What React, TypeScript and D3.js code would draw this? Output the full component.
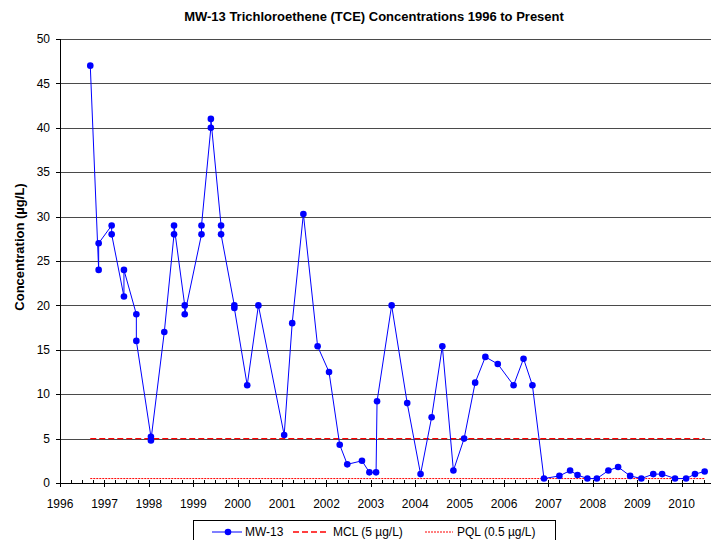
import React from "react";
import * as d3 from "d3";

const sampleDates: string[] = [
  "1996-09-06", "1996-11-14", "1996-11-14", "1997-03-01", "1997-03-01",
  "1997-06-10", "1997-06-10", "1997-09-20", "1997-09-20", "1998-01-18",
  "1998-01-18", "1998-05-08", "1998-07-27", "1998-07-27", "1998-10-23",
  "1998-10-23", "1999-03-10", "1999-03-10", "1999-05-26", "1999-05-26",
  "1999-08-18", "1999-08-18", "1999-12-05", "1999-12-05", "2000-03-20",
  "2000-06-20", "2001-01-18", "2001-03-25", "2001-06-25", "2001-10-20",
  "2002-01-22", "2002-04-20", "2002-06-21", "2002-10-20", "2002-12-20",
  "2003-02-13", "2003-02-21", "2003-06-21", "2003-10-27", "2004-02-14",
  "2004-05-15", "2004-08-11", "2004-11-10", "2005-02-06", "2005-05-08",
  "2005-07-31", "2005-11-10", "2006-03-20", "2006-06-10", "2006-08-22",
  "2006-11-25", "2007-04-01", "2007-06-28", "2007-08-28", "2007-11-17",
  "2008-02-03", "2008-05-08", "2008-07-27", "2008-11-03", "2009-02-03",
  "2009-05-12", "2009-07-24", "2009-11-07", "2010-02-06", "2010-04-20",
  "2010-07-09",
];

const mw13Values: number[] = [
  47, 24, 27, 29, 28,
  21, 24, 19, 16, 5.2,
  4.8, 17, 28, 29, 20,
  19, 28, 29, 40, 41,
  29, 28, 20, 19.7, 11,
  20, 5.4, 18, 30.3, 15.4,
  12.5, 4.3, 2.1, 2.5, 1.2,
  1.2, 9.2, 20, 9, 1.0,
  7.4, 15.4, 1.4, 5.0, 11.3,
  14.2, 13.4, 11, 14, 11,
  0.5, 0.8, 1.4, 0.9, 0.5,
  0.5, 1.4, 1.8, 0.8, 0.5,
  1.0, 1.0, 0.5, 0.5, 1.0,
  1.3,
];

const mclValue = 5;
const pqlValue = 0.5;
const yTicks: number[] = [0, 5, 10, 15, 20, 25, 30, 35, 40, 45, 50];
const xDomain: string[] = ["1996-01-01", "2010-08-30"];

const title = "MW-13 Trichloroethene (TCE) Concentrations 1996 to Present";
const yTitle = "Concentration (µg/L)";
const legendLabels: string[] = ["MW-13", "MCL (5 µg/L)", "PQL (0.5 µg/L)"];

const parse = d3.timeParse("%Y-%m-%d");

export default function App() {
  const W = 713;
  const H = 540;
  const left = 60;
  const right = 711;
  const top = 39;
  const bottom = 483;
  const font = "Arial, 'Liberation Sans', sans-serif";

  const x = d3
    .scaleTime()
    .domain([parse(xDomain[0])!, parse(xDomain[1])!])
    .range([left, right]);
  const y = d3.scaleLinear().domain([0, 50]).range([bottom, top]);

  const data = sampleDates.map((d, i) => ({ date: parse(d)!, value: mw13Values[i] }));
  const line = d3
    .line<{ date: Date; value: number }>()
    .x((d) => x(d.date))
    .y((d) => y(d.value));

  const firstDate = data[0].date;
  const lastDate = data[data.length - 1].date;

  const years = d3.timeYear.range(parse(xDomain[0])!, parse("2011-01-01")!).filter((d) => x(d) <= right);
  const quarters = d3.timeMonth
    .every(3)!
    .range(parse(xDomain[0])!, parse(xDomain[1])!)
    .filter((d) => d.getMonth() !== 0);

  const px = (v: number) => Math.round(v) + 0.5;

  const legY = 532;

  return (
    <svg
      width={W}
      height={H}
      style={{ position: "absolute", left: 0, top: 0, background: "#fff" }}
      fontFamily={font}
    >
      <rect x={0} y={0} width={W} height={H} fill="#fff" />
      <text x={374} y={21} textAnchor="middle" fontSize={13} fontWeight="bold">
        {title}
      </text>
      <text
        transform={`translate(24,${(top + bottom) / 2 - 14}) rotate(-90)`}
        textAnchor="middle"
        fontSize={13}
        fontWeight="bold"
      >
        {yTitle}
      </text>

      {/* gridlines */}
      {yTicks
        .filter((t) => t > 0)
        .map((t) => (
          <line key={"g" + t} x1={left} x2={right} y1={px(y(t))} y2={px(y(t))} stroke="#4a4a4a" strokeWidth={1} />
        ))}

      {/* y axis */}
      <line x1={px(left)} x2={px(left)} y1={top} y2={bottom + 1} stroke="#000" />
      {yTicks.map((t) => (
        <g key={"yt" + t}>
          <line x1={left - 4} x2={left} y1={px(y(t))} y2={px(y(t))} stroke="#000" />
          <text x={50} y={y(t)} dy="0.35em" textAnchor="end" fontSize={12}>
            {t}
          </text>
        </g>
      ))}

      {/* x axis */}
      <line x1={left} x2={right} y1={px(bottom)} y2={px(bottom)} stroke="#000" />
      {quarters.map((d, i) => (
        <line key={"q" + i} x1={px(x(d))} x2={px(x(d))} y1={bottom - 3} y2={bottom} stroke="#000" />
      ))}
      {years.map((d, i) => (
        <g key={"y" + i}>
          <line x1={px(x(d))} x2={px(x(d))} y1={bottom - 3} y2={bottom + 4} stroke="#000" />
          <text x={x(d)} y={508} textAnchor="middle" fontSize={12}>
            {d.getFullYear()}
          </text>
        </g>
      ))}

      {/* reference lines */}
      <line
        x1={x(firstDate)}
        x2={x(lastDate)}
        y1={y(mclValue)}
        y2={y(mclValue)}
        stroke="#ff0000"
        strokeWidth={1.3}
        strokeDasharray="6,3"
      />
      <line
        x1={x(firstDate)}
        x2={x(lastDate)}
        y1={y(pqlValue)}
        y2={y(pqlValue)}
        stroke="#ff0000"
        strokeWidth={1}
        strokeDasharray="2,1"
      />

      {/* data */}
      <path d={line(data) || ""} fill="none" stroke="#0000ff" strokeWidth={1} />
      {data.map((d, i) => (
        <circle key={"c" + i} cx={x(d.date)} cy={y(d.value)} r={3.3} fill="#0000ff" />
      ))}

      {/* legend */}
      <rect x={193.5} y={520.5} width={362} height={30} fill="#fff" stroke="#000" />
      <line x1={212} x2={242} y1={legY} y2={legY} stroke="#0000ff" />
      <circle cx={228} cy={legY} r={3.3} fill="#0000ff" />
      <text x={245} y={legY} dy="0.35em" fontSize={12}>
        {legendLabels[0]}
      </text>
      <line x1={293} x2={327} y1={legY} y2={legY} stroke="#ff0000" strokeWidth={1.3} strokeDasharray="6,3" />
      <text x={333} y={legY} dy="0.35em" fontSize={12}>
        {legendLabels[1]}
      </text>
      <line x1={425} x2={453} y1={legY} y2={legY} stroke="#ff0000" strokeDasharray="2,1" />
      <text x={457} y={legY} dy="0.35em" fontSize={12}>
        {legendLabels[2]}
      </text>
    </svg>
  );
}
